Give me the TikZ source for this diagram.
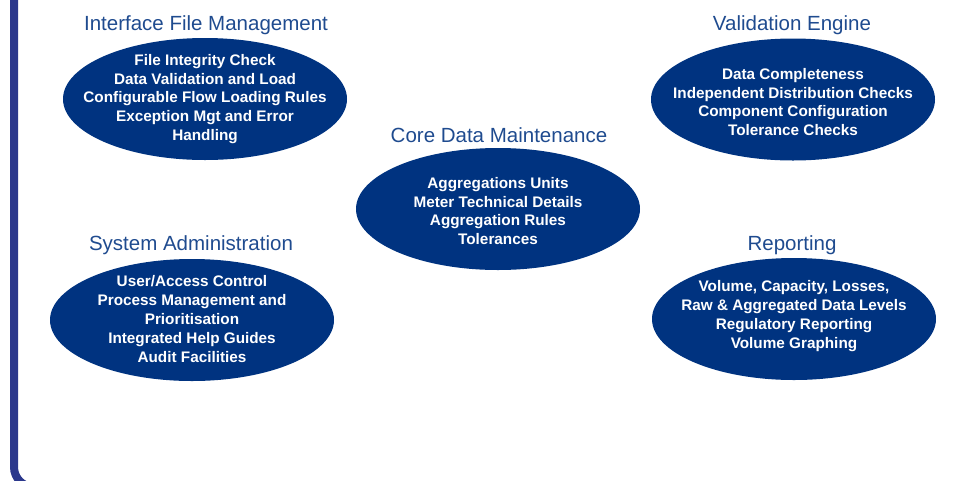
\documentclass[tikz,border=0pt]{standalone}
\usepackage{fontspec}
\setmainfont{Liberation Sans}
\usetikzlibrary{shapes.geometric}
\definecolor{navy}{RGB}{0,51,128}
\definecolor{titleblue}{RGB}{31,75,143}
\definecolor{framec}{RGB}{43,56,140}
\tikzset{
  blob/.style={ellipse, fill=navy, draw=none, minimum width=284pt, minimum height=122pt, inner sep=0pt},
  body/.style={text=white, font=\fontsize{15.3}{18.8}\selectfont\bfseries, align=center, inner sep=0pt},
  heading/.style={text=titleblue, font=\fontsize{20.5}{22}\selectfont, inner sep=0pt},
}
\begin{document}
\begin{tikzpicture}[x=1pt,y=-1pt]
\useasboundingbox (0,0) rectangle (961,480);
\clip (0,0) rectangle (961,480);
\draw[framec, line width=8pt, rounded corners=20pt] (14,-40) -- (14,487) -- (975,487) -- (975,-40);

\node[blob] (ifm) at (205,99) {};
\node[blob] (cdm) at (498,209) {};
\node[blob] (ve) at (793,99.5) {};
\node[blob] (sa) at (192,320) {};
\node[blob] (rep) at (794,319) {};

\node[heading] (ifmt) at (206,25) {Interface File Management};
\node[heading] (cdmt) at (499,135) {Core Data Maintenance};
\node[heading] (vet) at (792,25) {Validation Engine};
\node[heading] (sat) at (191,245) {System Administration};
\node[heading] (rept) at (792,245) {Reporting};

\node[body] (ifmb) at (205,99) {File Integrity Check\\Data Validation and Load\\Configurable Flow Loading Rules\\Exception Mgt and Error\\Handling};
\node[body] (cdmb) at (498,211) {Aggregations Units\\Meter Technical Details\\Aggregation Rules\\Tolerances};
\node[body] (veb) at (793,102) {Data Completeness\\Independent Distribution Checks\\Component Configuration\\Tolerance Checks};
\node[body] (sab) at (192,319) {User/Access Control\\Process Management and\\Prioritisation\\Integrated Help Guides\\Audit Facilities};
\node[body] (repb) at (794,316) {Volume, Capacity, Losses,\\Raw \& Aggregated Data Levels\\Regulatory Reporting\\Volume Graphing};
\end{tikzpicture}
\end{document}
